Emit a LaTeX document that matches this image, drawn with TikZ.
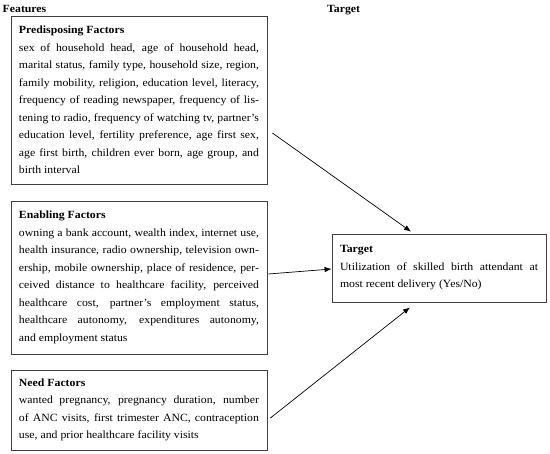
\documentclass[tikz,border=0pt]{standalone}
\usepackage{fontspec}
\setmainfont{Liberation Serif}[FakeStretch=1.07]
\usetikzlibrary{arrows.meta}
\tikzset{
  factorbox/.style={draw=black!75, line width=0.8pt, inner xsep=8pt, inner ysep=0pt,
    text width=240pt, minimum width=256pt, align=justify,
    font=\fontsize{11}{17.5}\selectfont},
  targetbox/.style={factorbox, text width=198pt, minimum width=214pt},
  header/.style={font=\fontsize{11}{12}\selectfont\bfseries, inner sep=0pt, anchor=base west},
  arr/.style={draw=black, line width=0.7pt, -{Latex[length=7pt,width=5.5pt]}}
}
\hfuzz=20pt
\begin{document}
\begin{tikzpicture}[x=1pt,y=1pt]
\useasboundingbox (0,0) rectangle (550,-454);
\node[header] (hf) at (2.5,-12.7) {Features};
\node[header] (ht) at (327,-12.7) {Target};

\node[factorbox, minimum height=168pt] (b1) at (139,-100) {\textbf{Predisposing Factors}\\
sex of household head, age of household head,\linebreak
marital status, family type, household size, region,\linebreak
family mobility, religion, education level, literacy,\linebreak
frequency of reading newspaper, frequency of lis-\linebreak
tening to radio, frequency of watching tv, partner’s\linebreak
education level, fertility preference, age first sex,\linebreak
age first birth, children ever born, age group, and\linebreak
birth interval};

\node[factorbox, minimum height=153pt] (b2) at (139,-277.5) {\textbf{Enabling Factors}\\
owning a bank account, wealth index, internet use,\linebreak
health insurance, radio ownership, television own-\linebreak
ership, mobile ownership, place of residence, per-\linebreak
ceived distance to healthcare facility, perceived\linebreak
healthcare cost, partner’s employment status,\linebreak
healthcare autonomy, expenditures autonomy,\linebreak
and employment status};

\node[factorbox, minimum height=80pt] (b3) at (139,-410) {\textbf{Need Factors}\\
wanted pregnancy, pregnancy duration, number\linebreak
of ANC visits, first trimester ANC, contraception\linebreak
use, and prior healthcare facility visits};

\node[targetbox, minimum height=68pt] (tg) at (439,-268) {\textbf{Target}\\
Utilization of skilled birth attendant at\linebreak
most recent delivery (Yes/No)};

\draw[arr] ([shift={(5pt,-33pt)}]b1.east) -- ([shift={(-28pt,2pt)}]tg.north);
\draw[arr] ([shift={(1pt,3.5pt)}]b2.east) -- ([shift={(0pt,-1pt)}]tg.west);
\draw[arr] ([shift={(3pt,-8pt)}]b3.east) -- ([shift={(-29pt,-5pt)}]tg.south);
\end{tikzpicture}
\end{document}
